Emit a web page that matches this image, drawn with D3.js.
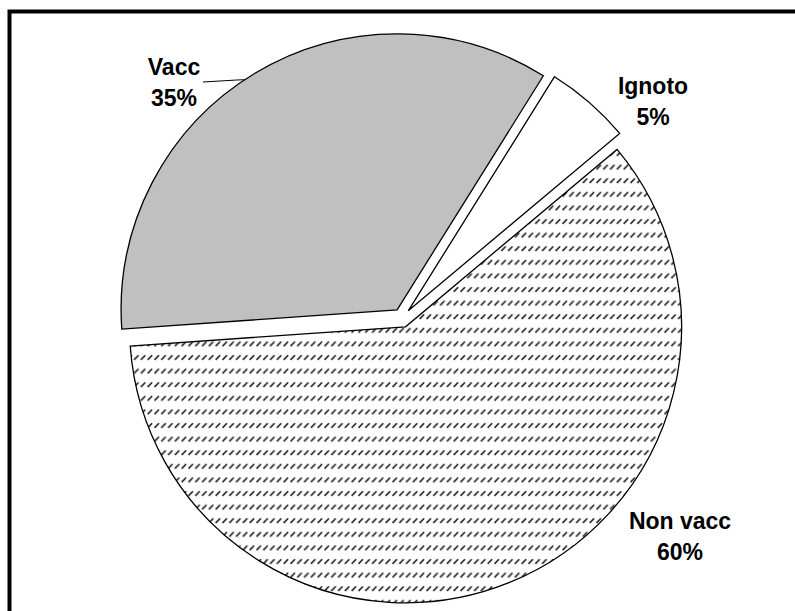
<!DOCTYPE html>
<html>
<head>
<meta charset="utf-8">
<script src="https://cdn.jsdelivr.net/npm/d3@7"></script>
<style>
  html, body { margin: 0; padding: 0; background: #fff; }
  svg { display: block; }
</style>
</head>
<body>
<svg id="chart" width="795" height="611"></svg>
<script>
// Vaccination status shares
const categories = ["Vacc", "Ignoto", "Non vacc"];
const values = [35, 5, 60];
const percentLabels = ["35%", "5%", "60%"];

const W = 795, H = 611;
const svg = d3.select("#chart");

// Pie geometry
const cx = 402, cy = 318, radius = 276, explode = 9.5;
const startDeg = 266;
const toRad = Math.PI / 180;

// Fine diagonal-dash fill for the largest slice
const defs = svg.append("defs");
const pat = defs.append("pattern")
  .attr("id", "hatch")
  .attr("patternUnits", "userSpaceOnUse")
  .attr("width", 6.8)
  .attr("height", 13.6);
pat.append("rect").attr("width", 6.8).attr("height", 13.6).attr("fill", "#fff");
pat.append("line")
  .attr("x1", 0.6).attr("y1", 5.8)
  .attr("x2", 5.0).attr("y2", 1.2)
  .attr("stroke", "#222")
  .attr("stroke-width", 1.7);

const fills = ["#c0c0c0", "#ffffff", "url(#hatch)"];

const pie = d3.pie()
  .sort(null)
  .value(d => d)
  .startAngle(startDeg * toRad)
  .endAngle(startDeg * toRad + 2 * Math.PI);
const arcs = pie(values);
const arc = d3.arc().innerRadius(0).outerRadius(radius);

const mid = d => (d.startAngle + d.endAngle) / 2;
const offset = d => [explode * Math.sin(mid(d)), -explode * Math.cos(mid(d))];

const g = svg.append("g").attr("transform", `translate(${cx},${cy})`);

g.selectAll("path.slice")
  .data(arcs)
  .join("path")
  .attr("class", "slice")
  .attr("transform", d => `translate(${offset(d)[0]},${offset(d)[1]})`)
  .attr("d", arc)
  .attr("fill", (d, i) => fills[i])
  .attr("stroke", "#000")
  .attr("stroke-width", 1.3)
  .attr("stroke-linejoin", "miter");

// Label anchors (centre of the two-line block, relative to the pie centre)
const labelAnchors = [[-228, -228], [251, -209], [278, 226.5]];
const lineGap = 31;

const labels = g.selectAll("g.label")
  .data(arcs)
  .join("g")
  .attr("class", "label")
  .attr("transform", (d, i) => `translate(${labelAnchors[i][0]},${labelAnchors[i][1]})`);

labels.append("text")
  .attr("text-anchor", "middle")
  .attr("y", -lineGap / 2)
  .attr("font-family", "Liberation Sans, Arial, sans-serif")
  .attr("font-weight", "bold")
  .attr("font-size", 23)
  .attr("fill", "#000")
  .text((d, i) => categories[i]);

labels.append("text")
  .attr("text-anchor", "middle")
  .attr("y", lineGap / 2)
  .attr("font-family", "Liberation Sans, Arial, sans-serif")
  .attr("font-weight", "bold")
  .attr("font-size", 23)
  .attr("fill", "#000")
  .text((d, i) => percentLabels[i]);

// Leader line from the "Vacc" label to its slice edge
const vacc = arcs[0];
const vm = mid(vacc) - 2.5 * toRad;
const vo = offset(vacc);
const edge = [vo[0] + radius * Math.sin(vm), vo[1] - radius * Math.cos(vm)];
const lx = labelAnchors[0][0] + 29, ly = labelAnchors[0][1] - 8;
g.append("path")
  .attr("d", d3.line()([[lx, ly], [edge[0] - 8, ly - 2], edge]))
  .attr("fill", "none")
  .attr("stroke", "#000")
  .attr("stroke-width", 1);

// Outer frame
svg.append("rect")
  .attr("x", 9.5).attr("y", 11.5)
  .attr("width", W + 40).attr("height", H + 40)
  .attr("fill", "none")
  .attr("stroke", "#000")
  .attr("stroke-width", 4);
</script>
</body>
</html>
